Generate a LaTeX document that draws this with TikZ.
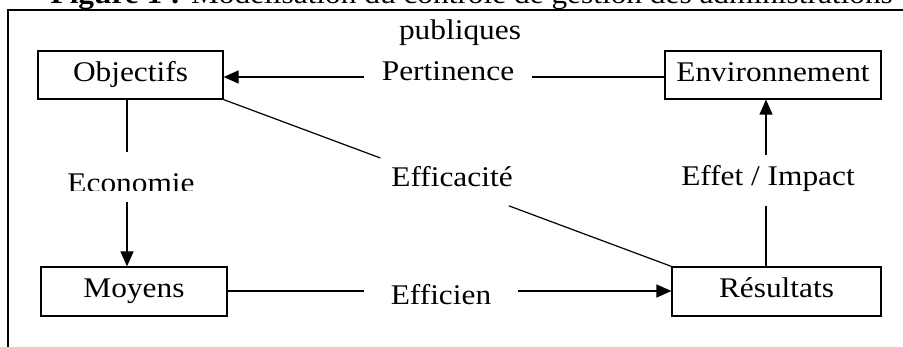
\documentclass[tikz,border=0pt]{standalone}
\usepackage{fontspec}
\setmainfont{Liberation Serif}[FakeStretch=1.1]
\usepackage{tikz}
\usetikzlibrary{positioning,calc,arrows.meta}

\begin{document}
\begin{tikzpicture}[x=1pt,y=-1pt,line width=1.2pt,
  font=\fontsize{28.5pt}{34pt}\selectfont,
  box/.style={draw,inner sep=0pt,text height=19pt,text depth=6pt},
  lbl/.style={inner sep=0pt,anchor=base},
  arr/.style={-{Triangle[length=15pt,width=13pt]}}]
  \useasboundingbox (0,0) rectangle (903,347);
  % title (cut at the top)
  \node[lbl,anchor=base west] (titre) at (50,4) {\textbf{Figure 1 :} Modélisation du contrôle de gestion des administrations};
  \node[lbl] (titre2) at (460,40) {publiques};
  \draw (8,370) |- (930,10);
  % boxes
  \node[box,minimum width=185pt,minimum height=48pt] (obj) at (130.5,75) {Objectifs};
  \node[box,minimum width=216pt,minimum height=48pt] (env) at (773,75) {Environnement};
  \node[box,minimum width=186pt,minimum height=49pt] (moy) at (134,291.5) {Moyens};
  \node[box,minimum width=209pt,minimum height=49pt] (res) at (776.5,291.5) {Résultats};
  % labels
  \node[lbl] (pert) at (448,81) {Pertinence};
  \begin{scope}
    \clip (60,160) rectangle (200,191);
    \node[lbl] (eco) at (131,192.5) {Economie};
  \end{scope}
  \node[lbl] (effa) at (452,187) {Efficacité};
  \node[lbl] (effet) at (768,186) {Effet / Impact};
  \node[lbl] (effi) at (441,305) {Efficien};
  % line ends
  \coordinate (pL) at (364,77);
  \coordinate (pR) at (532,77);
  \coordinate (eT) at (127,152);
  \coordinate (eB) at (127,202);
  \coordinate (fT) at ($(obj.south east)!0.35!(res.north west)$);
  \coordinate (fB) at ($(obj.south east)!0.637!(res.north west)$);
  \coordinate (iT) at (766,155);
  \coordinate (iB) at (766,206);
  \coordinate (nL) at (364,291);
  \coordinate (nR) at (518,291);
  % connectors
  \draw (env.west |- pR) -- (pR);
  \draw[arr] (pL) -- (obj.east |- pL);
  \draw (eT |- obj.south) -- (eT);
  \draw[arr] (eB) -- (eB |- moy.north);
  \draw (obj.south east) -- (fT);
  \draw (fB) -- (res.north west);
  \draw (iB |- res.north) -- (iB);
  \draw[arr] (iT) -- (iT |- env.south);
  \draw (moy.east |- nL) -- (nL);
  \draw[arr] (nR) -- (res.west |- nR);
\end{tikzpicture}
\end{document}
